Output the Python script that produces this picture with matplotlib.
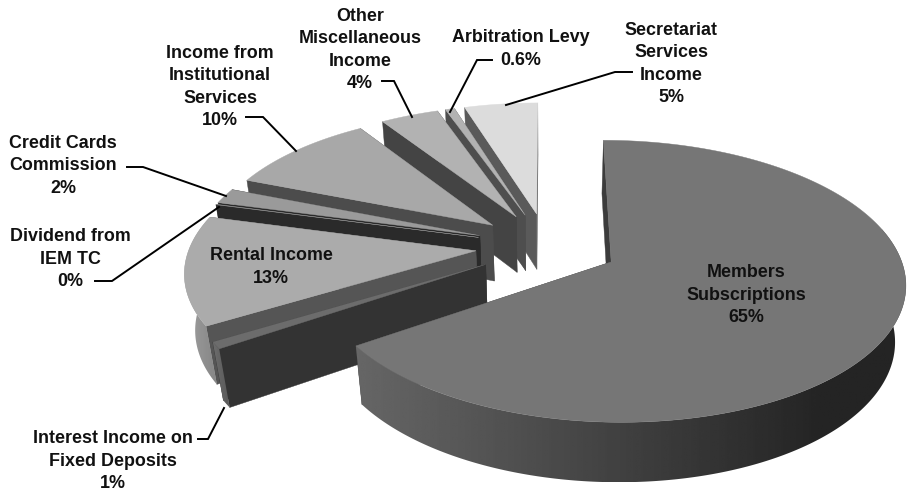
import numpy as np
import matplotlib
matplotlib.use("Agg")
import matplotlib.pyplot as plt
from matplotlib.patches import Polygon

plt.rcParams["font.family"] = ["Liberation Sans", "DejaVu Sans"]

# slices, clockwise from 12 o'clock
labels = ["Members\nSubscriptions\n65%", "Interest Income on\nFixed Deposits\n1%", "Rental Income\n13%",
          "Dividend from\nIEM TC\n0%", "Credit Cards\nCommission\n2%", "Income from\nInstitutional\nServices\n10%",
          "Other\nMiscellaneous\nIncome\n4%", "Arbitration Levy\n0.6%", "Secretariat\nServices\nIncome\n5%"]
values = [65.49, 0.8, 12.8, 0.05, 1.8, 9.8, 3.8, 0.6, 4.8]

top_colors = ["#767676", "#6c6c6c", "#ababab", "#8a8a8a", "#9a9a9a", "#a8a8a8", "#b2b2b2", "#b2b2b2", "#dcdcdc"]
wall_colors = ["#3c3c3c", "#333333", "#555555", "#2a2a2a", "#2a2a2a", "#4c4c4c", "#444444", "#4e4e4e", "#5a5a5a"]
rim_left = [0x66, 0x6c, 0xa0, 0x60, 0x60, 0x60, 0x60, 0x60, 0x90]
rim_right = [0x24, 0x5c, 0x88, 0x50, 0x50, 0x50, 0x50, 0x50, 0x80]

# label centres and leader lines, in pixels
label_xy = [(746, 295), (113, 461), (271, 267), (70, 259), (63, 166), (220, 87), (360, 50), (521, 49), (671, 64)]
leaders = [
    [(198, 439), (208, 439), (224, 408)],
    [(95, 281), (112, 281), (219, 207)],
    [(127, 167), (143, 167), (226, 196)],
    [(246, 117), (263, 117), (296, 151)],
    [(382, 81), (394, 81), (412, 117)],
    [(492, 60), (477, 60), (450, 112)],
    [(632, 72), (615, 72), (506, 105)],
]

# projection of the tilted pie
cx, cy = 547, 246
R, S, D = 286, 134, 58
persp, persp_z = 0.135, 0.03
explode = 0.25


def project(u, v, z):
    w = 1 / (1 - persp * v + persp_z * z)
    return cx + R * u * w, cy + S * v * w + D * z * w


def draw_slice(ax, a0, a1, top, wall, c_left, c_right, z):
    mid = (a0 + a1) / 2
    ou, ov = explode * np.sin(mid), -explode * np.cos(mid)
    angs = np.linspace(a0, a1, max(int(np.degrees(a1 - a0) * 2), 3))
    xt, yt = project(ou + np.sin(angs), ov - np.cos(angs), 0)
    ax0, ay0 = project(ou, ov, 0)
    ax1, ay1 = project(ou, ov, 1)
    xb, yb = project(ou + np.sin(angs), ov - np.cos(angs), 1)

    # radial walls
    for i in (-1, 0):
        ax.fill([ax0, xt[i], xb[i], ax1], [ay0, yt[i], yb[i], ay1], color=wall, lw=0.3, zorder=z)

    # outer wall, only the part that faces the viewer, shaded left to right
    front = -np.cos(angs) > -0.25
    if front.any():
        poly = np.c_[np.r_[xt[front], xb[front][::-1]], np.r_[yt[front], yb[front][::-1]]]
        patch = Polygon(poly, closed=True, fc="none", ec="none", zorder=z)
        ax.add_patch(patch)
        t = np.clip(np.linspace(0, 1, 256) / 0.85, 0, 1)
        grad = (c_left + (c_right - c_left) * t)[None, :]
        im = ax.imshow(grad, extent=(poly[:, 0].min(), poly[:, 0].max(), poly[:, 1].max(), poly[:, 1].min()),
                       cmap="gray", vmin=0, vmax=255, aspect="auto", zorder=z + 0.1)
        im.set_clip_path(patch)

    # top
    ax.fill(np.r_[ax0, xt], np.r_[ay0, yt], color=top, lw=0.3, zorder=z + 0.2)


fig = plt.figure(figsize=(9.10, 4.92), dpi=100)
ax = fig.add_axes([0, 0, 1, 1])

edges = np.r_[0, np.cumsum(values)] / np.sum(values) * 2 * np.pi
# back slices first, the big one last
order = list(range(len(values) - 1, 0, -1)) + [0]
for n, i in enumerate(order):
    draw_slice(ax, edges[i], edges[i + 1], top_colors[i], wall_colors[i], rim_left[i], rim_right[i], n + 1)

for pts in leaders:
    xs, ys = zip(*pts)
    ax.plot(xs, ys, color="black", lw=1.4, solid_joinstyle="miter", zorder=20)

for lab, (x, y) in zip(labels, label_xy):
    ax.text(x, y, lab, ha="center", va="center", fontsize=12.9, fontweight="bold", color="#111111",
            linespacing=1.42, zorder=21)

ax.set_xlim(0, 910)
ax.set_ylim(492, 0)
ax.axis("off")

fig.savefig("out.png", dpi=100)
